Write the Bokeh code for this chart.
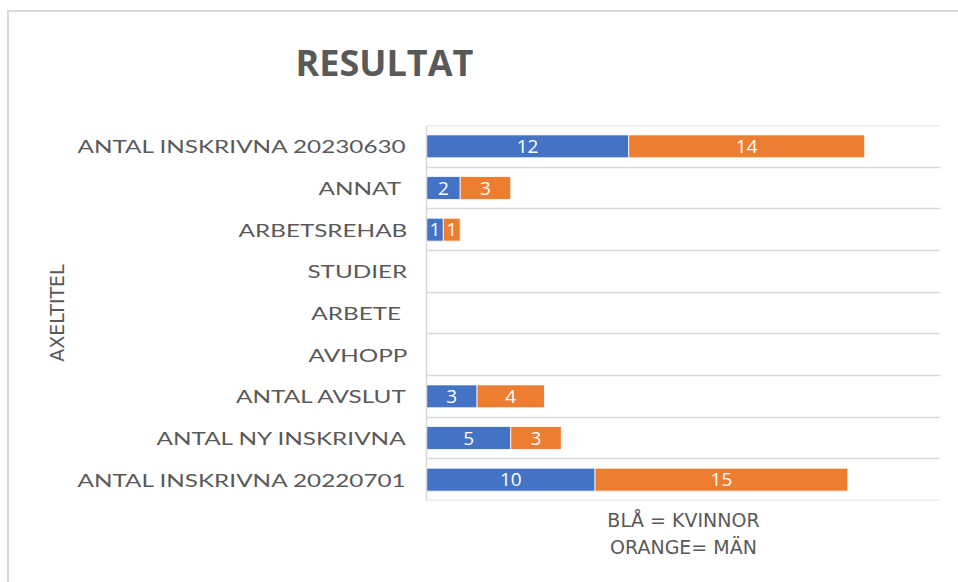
from bokeh.plotting import figure
from bokeh.layouts import column
from bokeh.models import ColumnDataSource, FactorRange, Range1d, FixedTicker
from bokeh.core.properties import value
from bokeh.embed import file_html
from bokeh.resources import INLINE

# ---- data (top-to-bottom as shown) ----
categories = [
    "ANTAL INSKRIVNA 20230630",
    "ANNAT ",
    "ARBETSREHAB",
    "STUDIER",
    "ARBETE ",
    "AVHOPP",
    "ANTAL AVSLUT",
    "ANTAL NY INSKRIVNA",
    "ANTAL INSKRIVNA 20220701",
]
kvinnor = [12, 2, 1, 0, 0, 0, 3, 5, 10]
man = [14, 3, 1, 0, 0, 0, 4, 3, 15]
series_names = ["kvinnor", "man"]
series_colors = ["#4472C4", "#ED7D31"]
chart_title = "RESULTAT"
y_title = "AXELTITEL"
x_title = "BLÅ = KVINNOR\nORANGE= MÄN"

TEXT_GRAY = "#595959"
GRID_GRAY = "#d9d9d9"
LABEL_FONT = "Lato"
LABEL_SIZE = "18px"
LABEL_STRETCH = 1.35     # wide (spaced-out) category labels
LABEL_RIGHT = 404        # px, right edge of category labels

W, H = 958, 582
BORDERS = dict(min_border_left=426, min_border_right=18,
               min_border_top=125, min_border_bottom=82)

src = ColumnDataSource(dict(cat=categories, kvinnor=kvinnor, man=man))
y_range = FactorRange(factors=categories[::-1])

# ---------------- main chart ----------------
p = figure(
    width=W, height=H,
    y_range=y_range,
    x_range=Range1d(0, 30.5),
    output_backend="svg", toolbar_location=None,
    **BORDERS,
)
p.border_fill_color = None
p.background_fill_color = "white"
p.outline_line_color = None
p.styles = {
    "background-color": "white",
    "background-image": "linear-gradient(#d9d9d9,#d9d9d9), linear-gradient(#d9d9d9,#d9d9d9)",
    "background-size": "2px 572px, 951px 2px",
    "background-position": "7px 10px, 7px 10px",
    "background-repeat": "no-repeat",
}

# category boundary lines
p.hspan(y=list(range(len(categories) + 1)), line_color=GRID_GRAY, line_width=1.5)

p.hbar_stack(series_names, y="cat", height=0.55, color=series_colors,
             line_color="white", line_width=0.8, source=src)

# data labels
lx, ly, lt = [], [], []
for i, c in enumerate(categories):
    start = 0
    for vals in (kvinnor, man):
        v = vals[i]
        if v > 0:
            lx.append(start + v / 2)
            ly.append(c)
            lt.append(str(v))
        start += v
p.text(x="x", y="y", text="t", source=ColumnDataSource(dict(x=lx, y=ly, t=lt)),
       text_align="center", text_baseline="middle", text_color="white",
       text_font=value("Open Sans"), text_font_size="19px")

p.xgrid.visible = False
p.ygrid.visible = False

# x axis (title only)
xa = p.xaxis[0]
xa.ticker = FixedTicker(ticks=[])
xa.axis_line_color = None
xa.major_tick_line_color = None
xa.minor_tick_line_color = None
xa.major_label_text_font_size = "0px"
xa.axis_label = x_title
xa.axis_label_text_font = "DejaVu Sans"
xa.axis_label_text_font_size = "19px"
xa.axis_label_text_font_style = "normal"
xa.axis_label_text_color = TEXT_GRAY
xa.axis_label_standoff = 8
xa.axis_label_text_line_height = 1.25

# y axis: line + title here; category names drawn (widened) by the overlay
ya = p.yaxis[0]
ya.axis_line_color = GRID_GRAY
ya.axis_line_width = 1.5
ya.major_tick_line_color = None
ya.minor_tick_line_color = None
ya.major_label_text_color = None
ya.major_label_standoff = 17
ya.axis_label = y_title
ya.axis_label_text_font = "DejaVu Sans"
ya.axis_label_text_font_size = "19px"
ya.axis_label_text_font_style = "normal"
ya.axis_label_text_color = TEXT_GRAY
ya.axis_label_standoff = 353

# title
p.title.text = chart_title
p.title.text_font = "Open Sans"
p.title.text_font_style = "bold"
p.title.text_font_size = "36px"
p.title.text_color = TEXT_GRAY
p.title.align = "left"
p.title.vertical_align = "top"
p.title.offset = -131
p.title.standoff = 73

# ---------------- overlay: category axis labels, stretched horizontally ----------------
q = figure(
    width=W, height=H,
    y_range=y_range, x_range=Range1d(0, 1),
    x_axis_location=None,
    output_backend="svg", toolbar_location=None,
    **BORDERS,
)
q.border_fill_color = None
q.background_fill_color = None
q.outline_line_color = None
q.grid.visible = False
qa = q.yaxis[0]
qa.axis_line_color = None
qa.major_tick_line_color = None
qa.minor_tick_line_color = None
qa.major_label_text_font = LABEL_FONT
qa.major_label_text_font_size = LABEL_SIZE
qa.major_label_text_color = TEXT_GRAY
qa.major_label_standoff = 14
q.styles = {
    "position": "absolute",
    "left": "0px",
    "top": "0px",
    "transform": f"scaleX({LABEL_STRETCH})",
    "transform-origin": f"{LABEL_RIGHT}px 0px",
    "pointer-events": "none",
}

layout = column(p, q)
open("out.html", "w").write(file_html(layout, INLINE))
